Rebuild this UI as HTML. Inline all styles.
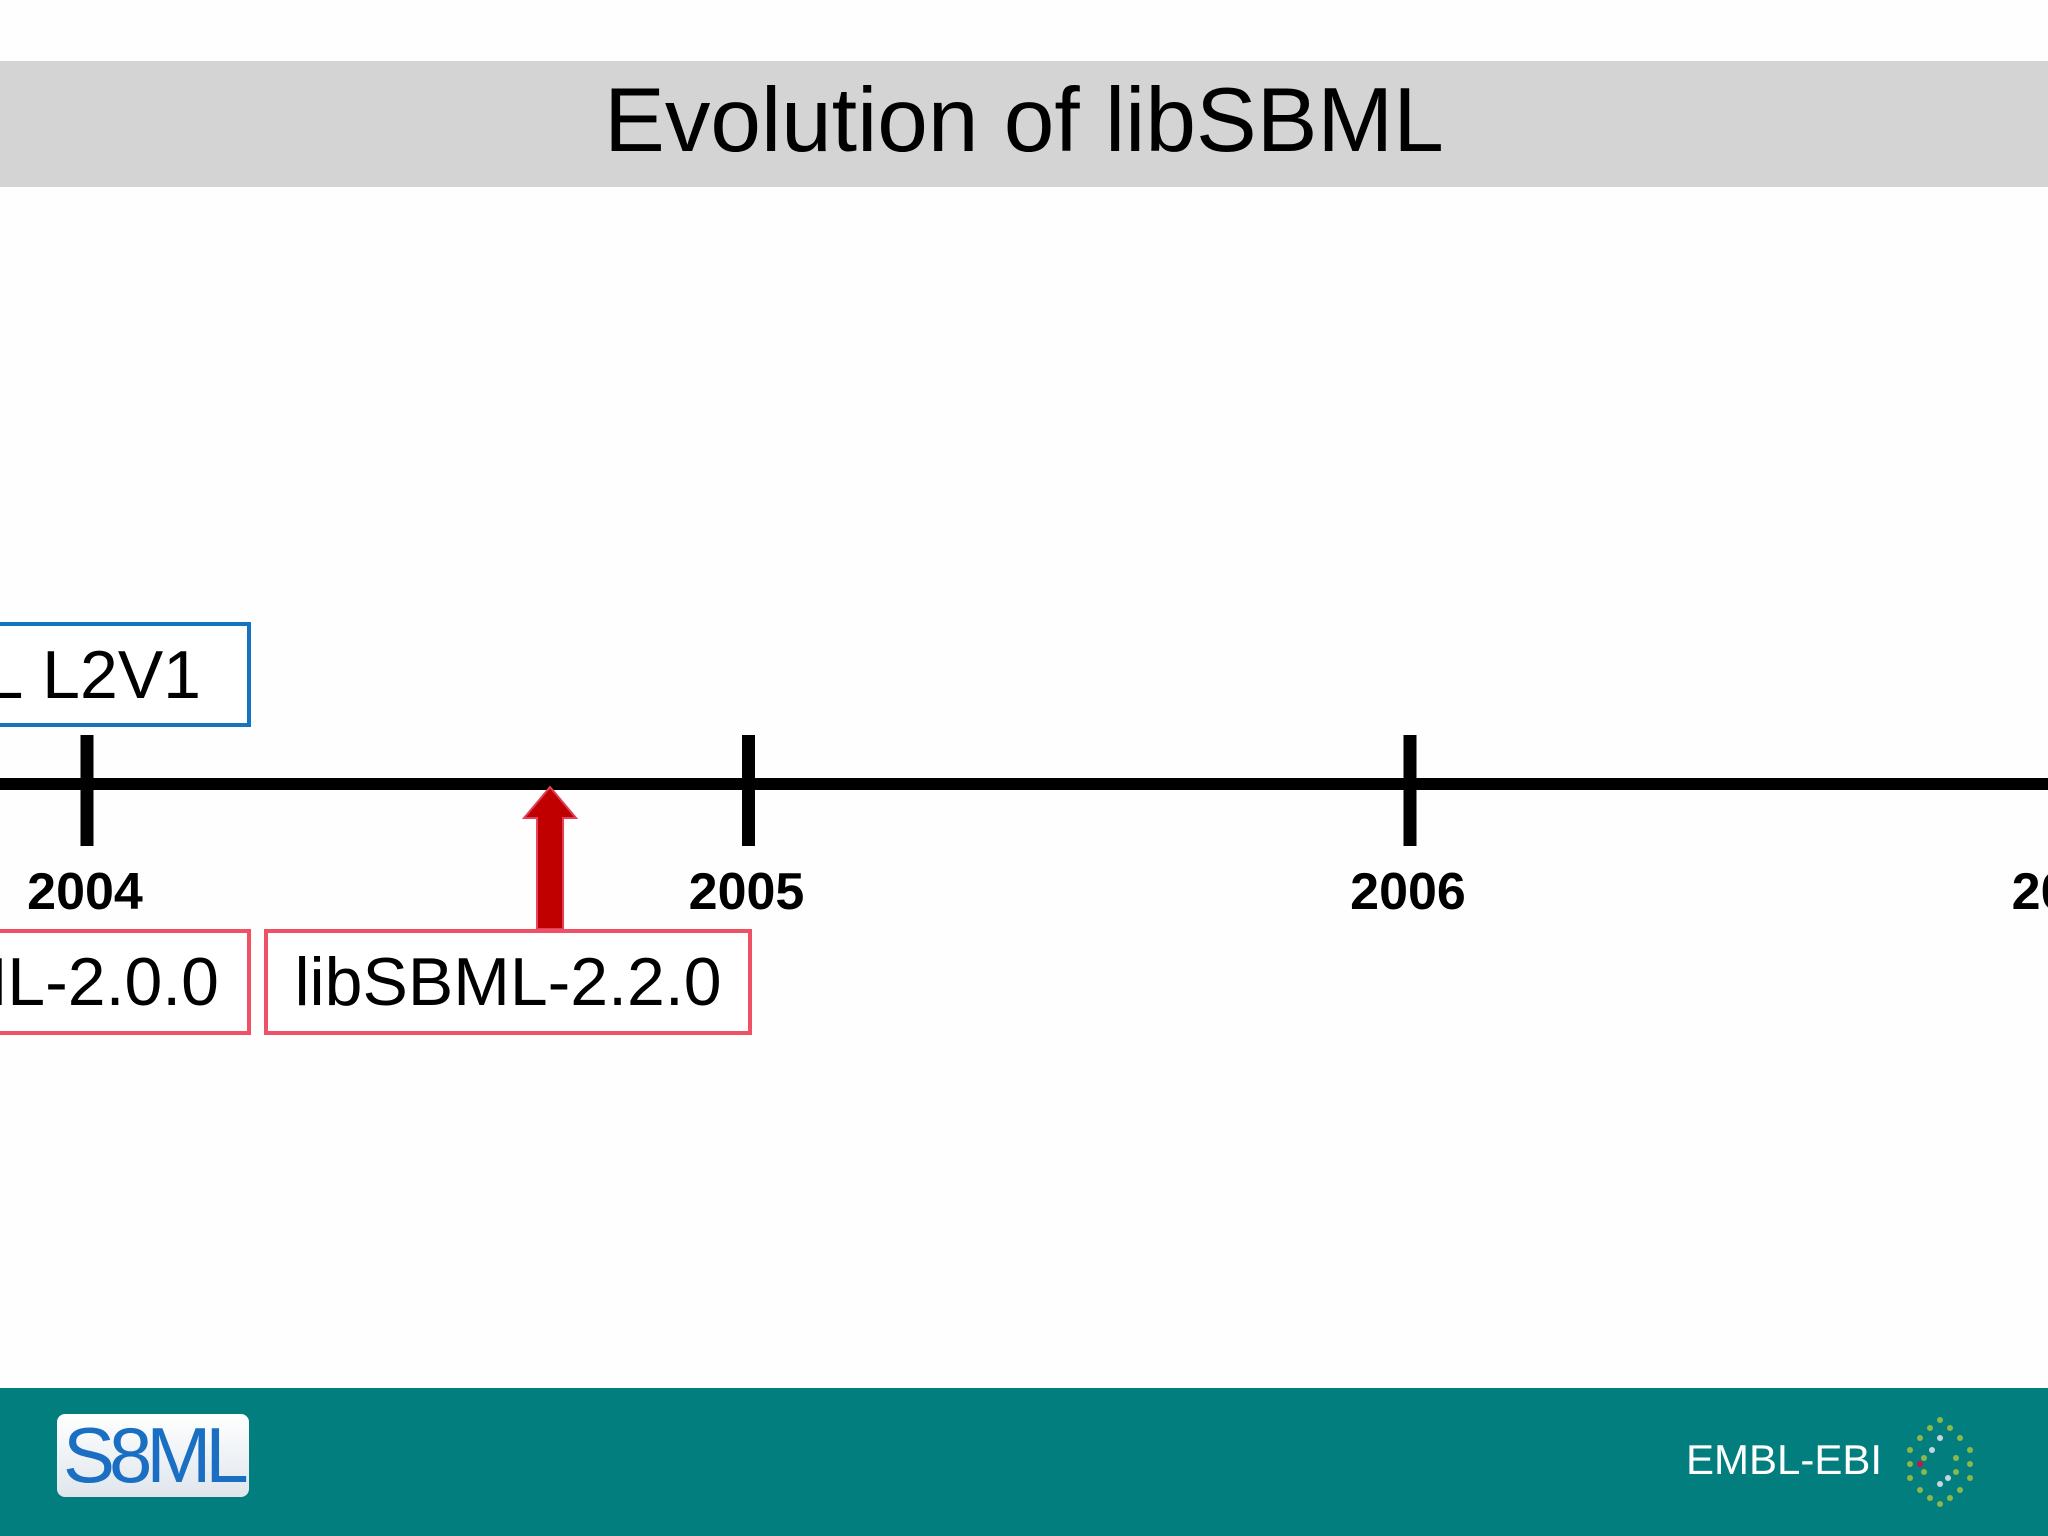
<!DOCTYPE html>
<html><head><meta charset="utf-8">
<style>
html,body{margin:0;padding:0;width:2048px;height:1536px;overflow:hidden;background:#fefefe;font-family:"Liberation Sans",sans-serif}
#title-bar{position:absolute;left:0;top:61px;width:2048px;height:126px;background:#d4d4d4}
#title{position:absolute;left:0;width:2048px;top:58px;height:126px;line-height:126px;text-align:center;font-size:91px;color:#000}
.box{position:absolute;box-sizing:border-box;border:4px solid #f05066;background:#fff;font-size:68px;color:#000;white-space:nowrap;overflow:hidden;line-height:96px;display:flex;align-items:center}
#footer{position:absolute;left:0;top:1388px;width:2048px;height:148px;background:#037e7e}
</style></head><body>
<div id="title-bar"></div>
<div id="title">Evolution of libSBML</div>
<svg id="chart" width="2048" height="1388" style="position:absolute;left:0;top:0"></svg>
<div class="box" style="left:-20px;top:622px;width:271px;height:105px;border-color:#1574bd;justify-content:flex-end;padding-right:46px"><span>SBML&nbsp;L2V1</span></div>
<div class="box" style="left:-20px;top:929px;width:271px;height:106px;justify-content:flex-end;padding-right:28px"><span>libSBML-2.0.0</span></div>
<div class="box" style="left:264px;top:929px;width:488px;height:106px;justify-content:center">libSBML-2.2.0</div>
<div id="footer">
  <div style="position:absolute;left:57px;top:26px;width:192px;height:83px;border-radius:8px;background:linear-gradient(#ffffff,#dfe6ec);">
    <span style="position:absolute;left:6px;top:0;font-size:78px;line-height:83px;color:#1a6fc2;letter-spacing:-6px;font-family:'Liberation Sans',sans-serif">S8ML</span>
  </div>
  <div style="position:absolute;left:1686px;top:42px;font-size:42px;color:#fff;line-height:60px">EMBL-EBI</div>
  <svg style="position:absolute;left:1896px;top:26px" width="88" height="96">
    <g fill="#8cb84a">
      <circle cx="44" cy="6" r="3"/><circle cx="34" cy="14" r="3"/><circle cx="54" cy="14" r="3"/>
      <circle cx="24" cy="24" r="3"/><circle cx="64" cy="24" r="3"/><circle cx="14" cy="36" r="3"/><circle cx="74" cy="36" r="3"/>
      <circle cx="14" cy="50" r="3"/><circle cx="74" cy="50" r="3"/><circle cx="14" cy="64" r="3"/><circle cx="74" cy="64" r="3"/>
      <circle cx="24" cy="76" r="3"/><circle cx="64" cy="76" r="3"/><circle cx="34" cy="84" r="3"/><circle cx="54" cy="84" r="3"/><circle cx="44" cy="90" r="3"/>
      <circle cx="28" cy="44" r="3"/><circle cx="60" cy="44" r="3"/><circle cx="28" cy="58" r="3"/><circle cx="60" cy="58" r="3"/>
    </g>
    <g fill="#c9d6dc"><circle cx="44" cy="24" r="3"/><circle cx="44" cy="70" r="3"/><circle cx="36" cy="36" r="3"/><circle cx="52" cy="64" r="3"/></g>
    <circle cx="24" cy="50" r="3" fill="#d0104a"/>
  </svg>
</div>
<script>
const years = [2004, 2005, 2006, 2007];
const yearLabels = ["2004", "2005", "2006", "2007"];
const releaseDates = [2004.70];
const releaseNames = ["libSBML-2.2.0"];

const NS = "http://www.w3.org/2000/svg";
const svg = document.getElementById("chart");
const x0 = 87, pxPerYear = 661.5, axisY = 784;
function xScale(v){ return x0 + (v - 2004) * pxPerYear; }
function mk(tag, attrs){ const e = document.createElementNS(NS, tag); for (const k in attrs) e.setAttribute(k, attrs[k]); svg.appendChild(e); return e; }

const axis = mk("line", {x1:0, x2:2048, y1:axisY, y2:axisY, stroke:"#000", "stroke-width":12});



years.forEach((y, i) => {
  const x = xScale(y);
  const t = mk("line", {x1:x, x2:x, y1:735, y2:846, stroke:"#000", "stroke-width":13});
  
  
  const l = mk("text", {x:x - 2, y:909, "text-anchor":"middle", "font-size":52, "font-weight":"bold", "font-family":"Liberation Sans, sans-serif"});
  l.textContent = yearLabels[i];
  
  
});

releaseDates.forEach((d, i) => {
  const x = xScale(d);
  const p = mk("path", {d:`M${x-13},929 L${x-13},818 L${x-26},818 L${x},787 L${x+26},818 L${x+13},818 L${x+13},929 Z`, fill:"#c00000", stroke:"#e0405a", "stroke-width":2});
  
  
});
</script>
</body></html>
